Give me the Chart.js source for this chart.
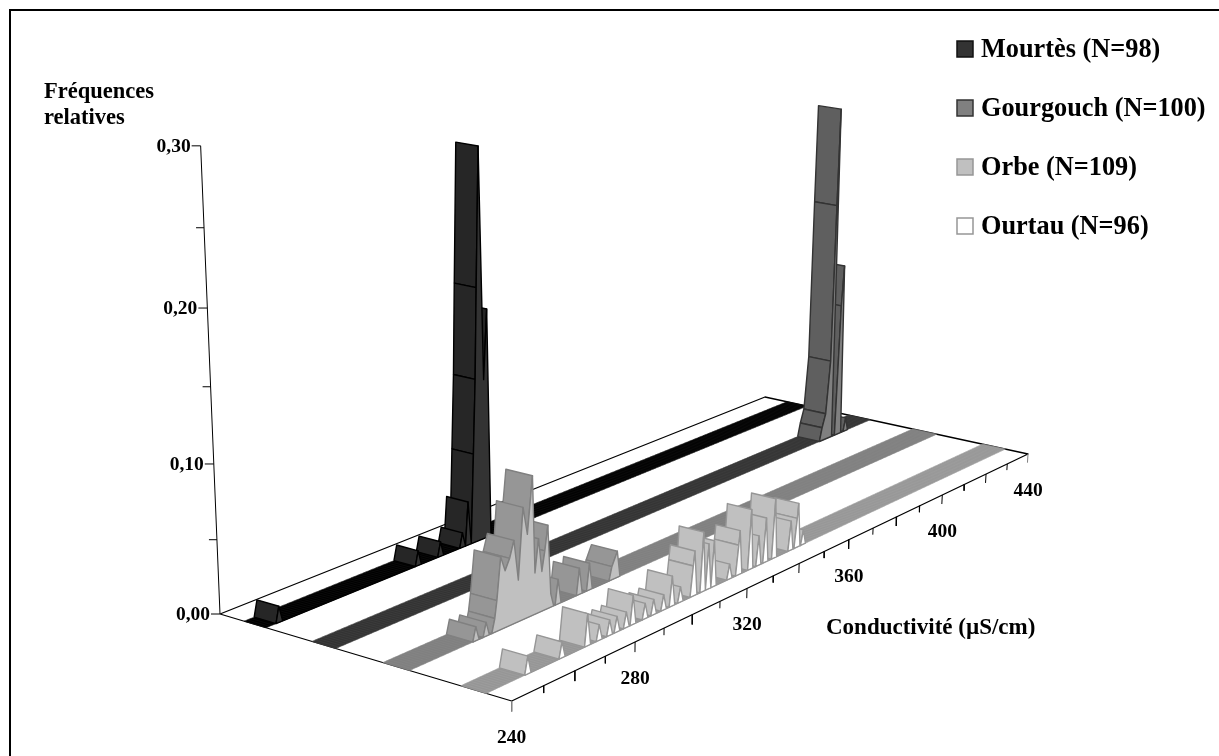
<!DOCTYPE html>
<html>
<head>
<meta charset="utf-8">
<title>Conductivité</title>
<script src="https://cdn.jsdelivr.net/npm/chart.js@4/dist/chart.umd.min.js"></script>
<style>
  body { margin: 0; background: #fff; }
  #wrap { position: relative; width: 1219px; height: 756px; overflow: hidden; }
  #frame { position: absolute; left: 9px; top: 9px; right: -4px; bottom: -4px; border-left: 2px solid #000; border-top: 2px solid #000; }
</style>
</head>
<body>
<div id="wrap">
  <canvas id="chart" width="1219" height="756"></canvas>
  <div id="frame"></div>
</div>
<script>
// Values: conductivity (µS/cm) and relative frequency
const mourtesCond = [244, 288, 295.5, 303, 305, 307, 307.8, 308.4, 309.4, 310.7, 311.9];
const mourtesFreq = [0.0108, 0.0102, 0.0102, 0.0102, 0.0306, 0.0628, 0.1144, 0.1767, 0.2704, 0.1122, 0.16];

const gourgouchCond = [417.9, 419.3, 420.7, 421, 421.3, 424.6, 425.4, 428.5];
const gourgouchFreq = [0.01, 0.02, 0.06, 0.178, 0.249, 0.10, 0.13, 0.01];

const orbeCond = [260.7, 264, 266.8, 267.5, 268.8, 270.2, 271.7, 273.1, 274.5, 276.1, 277.5, 279.2, 280, 281.2, 282.3, 283.3, 284.3, 285.3, 287.8, 295.1, 298.6, 306.5, 308.4];
const orbeFreq = [0.0093, 0.0092, 0.0092, 0.0205, 0.0484, 0.038, 0.045, 0.0557, 0.028, 0.0751, 0.056, 0.0934, 0.028, 0.05, 0.027, 0.04, 0.0564, 0.0092, 0.0168, 0.018, 0.0184, 0.0092, 0.0183];

const ourtauCond = [253, 264, 272.4, 276.3, 279.8, 282.3, 285.5, 287.8, 292, 295, 298.5, 301.5, 304.5, 309, 309.5, 312.6, 314.6, 316.6, 322.5, 325.8, 326.2, 330.4, 333.5, 336.2, 339.6, 346, 348.4, 348.8, 351];
const ourtauFreq = [0.0115, 0.0104, 0.0213, 0.0104, 0.0104, 0.0104, 0.0104, 0.0196, 0.0104, 0.0104, 0.0104, 0.0204, 0.0104, 0.0208, 0.0307, 0.041, 0.0312, 0.0317, 0.0104, 0.0208, 0.0306, 0.0419, 0.0208, 0.0312, 0.0419, 0.0208, 0.0208, 0.0312, 0.0104];

// Axis ticks
const condTicks = [240, 250, 260, 270, 280, 290, 300, 310, 320, 330, 340, 350, 360, 370, 380, 390, 400, 410, 420, 430, 440];
const condLabels = [240, 280, 320, 360, 400, 440];
const freqTicks = [0, 0.05, 0.10, 0.15, 0.20, 0.25, 0.30];
const freqLabels = ['0,00', '0,10', '0,20', '0,30'];

// Series look, back to front
const series = [
  { name: 'Mourtès (N=98)', cond: mourtesCond, freq: mourtesFreq, back: 0.088, front: 0.167,
    floor: '#000000', stripe: '#1c1c1c', face: '#262626', area: '#333333', line: '#000000' },
  { name: 'Gourgouch (N=100)', cond: gourgouchCond, freq: gourgouchFreq, back: 0.33, front: 0.413,
    floor: '#333333', stripe: '#4a4a4a', face: '#5f5f5f', area: '#808080', line: '#333333' },
  { name: 'Orbe (N=109)', cond: orbeCond, freq: orbeFreq, back: 0.575, front: 0.665,
    floor: '#808080', stripe: '#8c8c8c', face: '#969696', area: '#c0c0c0', line: '#808080' },
  { name: 'Ourtau (N=96)', cond: ourtauCond, freq: ourtauFreq, back: 0.835, front: 0.918,
    floor: '#969696', stripe: '#a8a8a8', face: '#c0c0c0', area: '#ffffff', line: '#969696' }
];

const legendSwatch = ['#333333', '#808080', '#c0c0c0', '#ffffff'];
const legendEdge = ['#111111', '#333333', '#969696', '#969696'];

const FONT = '"Liberation Serif", "Times New Roman", serif';
const COND_MIN = 240;
const COND_MAX = 440;

// Floor corners of the 3D box on screen, and where the verticals meet
const floorBL = [220, 614], floorBR = [765, 397], floorFR = [1028, 454], floorFL = [511.7, 701];
const vanish = [541, 8381];
const HEIGHT_K = -0.1895;

// Square-to-quad homography for the floor
const dx1 = floorBR[0] - floorFR[0], dx2 = floorFL[0] - floorFR[0];
const sx = floorBL[0] - floorBR[0] + floorFR[0] - floorFL[0];
const dy1 = floorBR[1] - floorFR[1], dy2 = floorFL[1] - floorFR[1];
const sy = floorBL[1] - floorBR[1] + floorFR[1] - floorFL[1];
const det = dx1 * dy2 - dx2 * dy1;
const hg = (sx * dy2 - dx2 * sy) / det;
const hh = (dx1 * sy - sx * dy1) / det;
const ha = floorBR[0] - floorBL[0] + hg * floorBR[0];
const hb = floorFL[0] - floorBL[0] + hh * floorFL[0];
const hd = floorBR[1] - floorBL[1] + hg * floorBR[1];
const he = floorFL[1] - floorBL[1] + hh * floorFL[1];

// Project (conductivity, frequency, depth) to the flat chart plane
function project(cond, freq, depth) {
  const u = (cond - COND_MIN) / (COND_MAX - COND_MIN);
  const q = freq * HEIGHT_K;
  const w = hg * u + hh * depth + 1 + q;
  return {
    x: (ha * u + hb * depth + floorBL[0] + q * vanish[0]) / w,
    y: (hd * u + he * depth + floorBL[1] + q * vanish[1]) / w
  };
}

function shape(points, fillColor, lineColor, lineWidth) {
  return {
    data: points,
    showLine: true,
    fill: false,
    polyFill: fillColor,
    borderColor: lineColor || 'rgba(0,0,0,0)',
    borderWidth: lineWidth === undefined ? 1 : lineWidth,
    borderJoinStyle: 'round',
    pointRadius: 0,
    tension: 0,
    clip: false
  };
}

// Add the zero points around each peak
function profile(s) {
  const pts = [];
  s.cond.forEach((c, i) => {
    const prev = s.cond[i - 1];
    if (prev === undefined) {
      pts.push([c - 1, 0]);
    } else if (c - prev >= 2) {
      if (c - prev > 2) pts.push([prev + 1, 0]);
      pts.push([c - 1, 0]);
    }
    pts.push([c, s.freq[i]]);
  });
  pts.push([s.cond[s.cond.length - 1] + 1, 0]);
  return pts;
}

const datasets = [];

// Box edges and ticks
const box = [[COND_MIN, 0], [COND_MAX, 0], [COND_MAX, 1], [COND_MIN, 1], [COND_MIN, 0]]
  .map(p => project(p[0], 0, p[1]));
datasets.push(shape(box, null, '#000000', 1.3));
datasets.push(shape([project(COND_MIN, 0, 0), project(COND_MIN, 0.30, 0)], null, '#000000', 1));
freqTicks.forEach((f, i) => {
  const p = project(COND_MIN, f, 0);
  const len = i % 2 === 0 ? 9 : 8;
  datasets.push(shape([{ x: p.x - len, y: p.y }, p], null, '#000000', 1));
});
condTicks.forEach((c, i) => {
  const len = i % 2 === 0 ? 0.0068 : 0.0048;
  const color = c === COND_MIN || c === COND_MAX ? '#808080' : '#000000';
  datasets.push(shape([project(c, 0, 1), project(c, -len, 1)], null, color, 1));
});

// Ribbons, back to front
series.forEach(s => {
  const ribbon = [[COND_MIN, s.back], [COND_MAX, s.back], [COND_MAX, s.front], [COND_MIN, s.front], [COND_MIN, s.back]]
    .map(p => project(p[0], 0, p[1]));
  datasets.push(shape(ribbon, s.floor, s.floor, 0.5));

  // thin rungs across the ribbon, one per conductivity unit
  const rungs = [];
  for (let c = COND_MIN, flip = false; c <= COND_MAX; c += 1, flip = !flip) {
    rungs.push(project(c, 0, flip ? s.front : s.back), project(c, 0, flip ? s.back : s.front));
  }
  datasets.push(shape(rungs, null, s.stripe, 0.35));

  // rising faces, far ones first so the near ones cover them
  const pts = profile(s);
  for (let i = pts.length - 1; i > 0; i--) {
    const a = pts[i - 1], b = pts[i];
    if (b[1] <= a[1]) continue;
    const quad = [
      project(a[0], a[1], s.back), project(b[0], b[1], s.back),
      project(b[0], b[1], s.front), project(a[0], a[1], s.front),
      project(a[0], a[1], s.back)
    ];
    datasets.push(shape(quad, s.face, s.line, 1.4));
  }

  // front area
  const area = pts.map(p => project(p[0], p[1], s.front));
  area.push(area[0]);
  datasets.push(shape(area, s.area, s.line, 1.4));
});

// Chart.js draws the first dataset on top, we built them back to front
datasets.reverse();

// Fill each closed dataset from the points the chart has laid out
const polygonFill = {
  id: 'polygonFill',
  beforeDatasetDraw(chart, args) {
    const color = chart.data.datasets[args.index].polyFill;
    if (!color) return;
    const pts = args.meta.data;
    const ctx = chart.ctx;
    ctx.save();
    ctx.beginPath();
    pts.forEach((p, i) => (i ? ctx.lineTo(p.x, p.y) : ctx.moveTo(p.x, p.y)));
    ctx.closePath();
    ctx.fillStyle = color;
    ctx.fill();
    ctx.restore();
  }
};

// Tick labels, titles and legend
const chartText = {
  id: 'chartText',
  afterDatasetsDraw(chart) {
    const ctx = chart.ctx;
    const sx = chart.scales.x, sy = chart.scales.y;
    ctx.save();
    ctx.fillStyle = '#000';
    ctx.textBaseline = 'middle';

    ctx.font = 'bold 19.5px ' + FONT;
    ctx.textAlign = 'right';
    freqLabels.forEach((t, i) => {
      const p = project(COND_MIN, i / 10, 0);
      ctx.fillText(t, sx.getPixelForValue(p.x) - 10, sy.getPixelForValue(p.y) + 1);
    });
    ctx.textAlign = 'center';
    condLabels.forEach(c => {
      const p = project(c, 0, 1);
      ctx.fillText(String(c), sx.getPixelForValue(p.x), sy.getPixelForValue(p.y) + 37);
    });
    ctx.textAlign = 'left';
    ctx.font = 'bold 22.5px ' + FONT;
    ctx.fillText('Fréquences', 44, 92);
    ctx.fillText('relatives', 44, 118);
    ctx.font = 'bold 23px ' + FONT;
    ctx.fillText('Conductivité (µS/cm)', 826, 628);

    ctx.font = 'bold 26.3px ' + FONT;
    series.forEach((s, i) => {
      const y = 49 + i * 59;
      ctx.fillStyle = legendSwatch[i];
      ctx.strokeStyle = legendEdge[i];
      ctx.lineWidth = 1.5;
      ctx.fillRect(957, y - 8, 16, 16);
      ctx.strokeRect(957, y - 8, 16, 16);
      ctx.fillStyle = '#000';
      ctx.fillText(s.name, 981, y + 1);
    });
    ctx.restore();
  }
};

const chart = new Chart(document.getElementById('chart').getContext('2d'), {
  type: 'scatter',
  data: { datasets },
  plugins: [polygonFill, chartText],
  options: {
    responsive: false,
    animation: false,
    layout: { padding: 0 },
    plugins: { legend: { display: false }, tooltip: { enabled: false } },
    scales: {
      x: { type: 'linear', min: 0, max: 1219, display: false },
      y: { type: 'linear', min: 0, max: 756, reverse: true, display: false }
    }
  }
});
</script>
</body>
</html>
